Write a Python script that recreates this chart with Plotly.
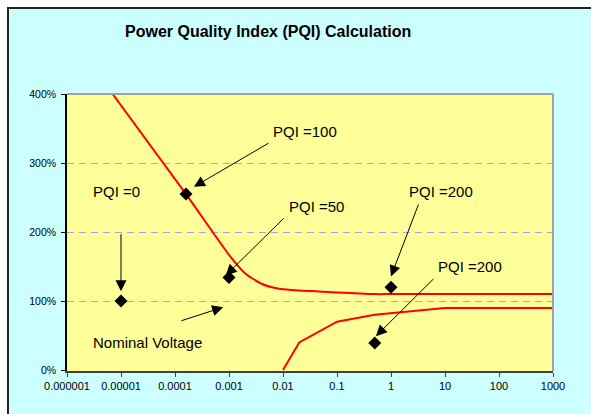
import math
import plotly.graph_objects as go

# ---- data ----
x_ticks = [1e-6, 1e-5, 1e-4, 1e-3, 1e-2, 1e-1, 1, 10, 100, 1000]
x_tick_labels = ["0.000001", "0.00001", "0.0001", "0.001", "0.01", "0.1", "1", "10", "100", "1000"]
y_ticks = [0, 1, 2, 3, 4]

upper_x = [0.000007, 0.00016, 0.001, 0.002, 0.004, 0.008, 0.0167, 0.1, 0.5, 1, 1000]
upper_y = [4.00, 2.55, 1.67, 1.40, 1.25, 1.18, 1.155, 1.125, 1.10, 1.10, 1.10]

lower_x = [0.01, 0.02, 0.1, 0.5, 10, 1000]
lower_y = [0.00, 0.40, 0.70, 0.80, 0.90, 0.90]

pqi_x = [0.00001, 0.00016, 0.001, 1, 0.5]
pqi_y = [1.00, 2.55, 1.34, 1.20, 0.39]

# ---- figure ----
W, H = 591, 414
L, R, T, B = 67, 38, 94, 43
pw, ph = W - L - R, H - T - B


def px_x(px):
    return (px - L) / pw


def px_y(py):
    return (H - B - py) / ph


FONT = "Liberation Sans, Arial, sans-serif"
lg = math.log10

fig = go.Figure()
fig.add_trace(go.Scatter(x=upper_x, y=upper_y, mode="lines",
                         line=dict(color="#FF0000", width=2, shape="spline", smoothing=0.6),
                         hoverinfo="skip"))
fig.add_trace(go.Scatter(x=lower_x, y=lower_y, mode="lines",
                         line=dict(color="#FF0000", width=2),
                         hoverinfo="skip"))
fig.add_trace(go.Scatter(x=pqi_x, y=pqi_y, mode="markers",
                         marker=dict(symbol="diamond", size=10, color="black"),
                         hoverinfo="skip"))

labels = [
    ("PQI =0", 0.0000081, 2.58),
    ("PQI =100", 0.0257, 3.45),
    ("PQI =50", 0.0417, 2.37),
    ("PQI =200", 8.3, 2.58),
    ("PQI =200", 29.5, 1.50),
    ("Nominal Voltage", 0.0000316, 0.404),
]
annotations = []
for txt, x, y in labels:
    annotations.append(dict(text=txt, x=lg(x), y=y, xref="x", yref="y", showarrow=False,
                            font=dict(family=FONT, size=15, color="black"),
                            xanchor="center", yanchor="middle"))

arrows = [
    # tip_x, tip_y, tail_x, tail_y
    (0.00001, 1.14, 0.00001, 1.99),
    (0.000224, 2.655, 0.00575, 3.30),
    (0.00087, 1.37, 0.011, 2.22),
    (1.0, 1.356, 3.3, 2.42),
    (0.525, 0.49, 6.5, 1.34),
    (0.00078, 0.91, 0.000123, 0.707),
]
for tx, ty, ax, ay in arrows:
    annotations.append(dict(text="", x=lg(tx), y=ty, ax=lg(ax), ay=ay, xref="x", yref="y",
                            axref="x", ayref="y", showarrow=True, arrowhead=2,
                            arrowsize=2.2, arrowwidth=1, arrowcolor="black", standoff=0))

annotations.append(dict(text="<b>Power Quality Index (PQI) Calculation</b>",
                        x=px_x(268), y=px_y(32), xref="paper", yref="paper",
                        showarrow=False, xanchor="center", yanchor="middle",
                        font=dict(family=FONT, size=16, color="black")))

shapes = [
    # white outside the chart frame
    dict(type="rect", xref="paper", yref="paper", x0=px_x(-5), x1=px_x(7), y0=px_y(420), y1=px_y(-5),
         fillcolor="white", line=dict(width=0), layer="below"),
    dict(type="rect", xref="paper", yref="paper", x0=px_x(-5), x1=px_x(600), y0=px_y(7), y1=px_y(-5),
         fillcolor="white", line=dict(width=0), layer="below"),
    # frame border
    dict(type="line", xref="paper", yref="paper", x0=px_x(8), x1=px_x(8), y0=px_y(7), y1=px_y(420),
         line=dict(color="#222222", width=2)),
    dict(type="line", xref="paper", yref="paper", x0=px_x(7), x1=px_x(600), y0=px_y(8), y1=px_y(8),
         line=dict(color="#222222", width=2)),
    # plot area top and right border
    dict(type="line", xref="paper", yref="paper", x0=0, x1=1, y0=1, y1=1,
         line=dict(color="#A0A0A0", width=2)),
    dict(type="line", xref="paper", yref="paper", x0=1, x1=1, y0=0, y1=1,
         line=dict(color="#A0A0A0", width=2)),
]

# pixel-aligned y range (69 px per 100%)
pad = 1.0 / 69.0

fig.update_layout(
    width=W, height=H,
    margin=dict(l=L, r=R, t=T, b=B),
    paper_bgcolor="#CCFFFF",
    plot_bgcolor="#FFFF99",
    showlegend=False,
    font=dict(family=FONT, color="black"),
    annotations=annotations,
    shapes=shapes,
    xaxis=dict(type="log", range=[-6, 3], tickvals=x_ticks, ticktext=x_tick_labels,
               showgrid=False, zeroline=False, showline=True, linecolor="#404040", linewidth=2,
               ticks="outside", ticklen=4, tickcolor="#404040", tickfont=dict(size=11, family=FONT)),
    yaxis=dict(range=[-pad, 4], tickvals=y_ticks, tickformat=".0%",
               showgrid=True, gridcolor="#B898F0", griddash="7px,5px", gridwidth=1,
               zeroline=False, showline=True, linecolor="black", linewidth=1.5,
               ticks="outside", ticklen=4, tickcolor="black", ticklabelstandoff=3,
               tickfont=dict(size=10.5, family=FONT)),
)

fig.write_html("out.html", config={"displayModeBar": False},
               post_script="document.body.style.margin='0';document.body.style.overflow='hidden';")
